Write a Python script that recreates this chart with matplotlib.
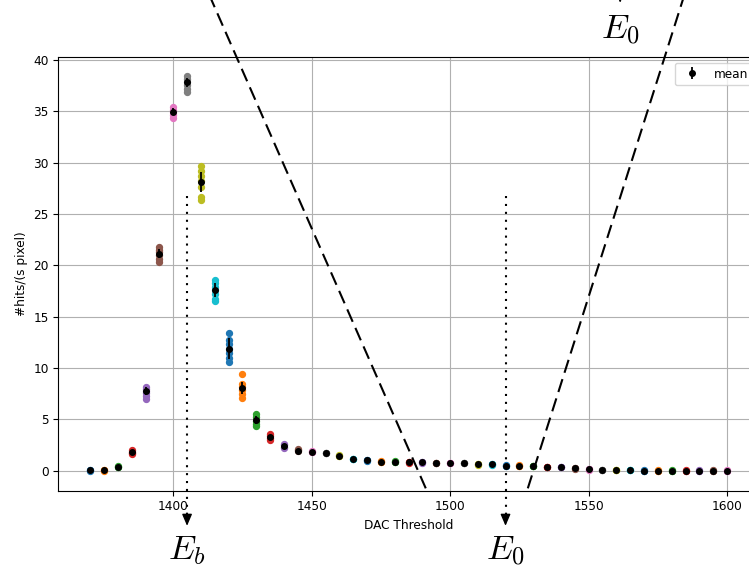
import numpy as np
import matplotlib
matplotlib.use('Agg')
import matplotlib.pyplot as plt

plt.rcParams['mathtext.fontset'] = 'cm'

# DAC thresholds and the per-pixel hit rates
thresholds = list(range(1370, 1605, 5))

pixel_rates = [
    [0.02, 0.05, 0.08], [0.03, 0.05, 0.08], [0.35, 0.42, 0.50],
    [1.65, 1.75, 1.85, 2.05], [7.0, 7.3, 7.6, 7.8, 8.0, 8.2],
    [20.3, 20.6, 21.0, 21.3, 21.5, 21.8], [34.3, 34.6, 34.9, 35.1, 35.4],
    [36.9, 37.2, 37.5, 37.8, 38.1, 38.4], [26.4, 26.6, 27.6, 28.2, 28.7, 29.2, 29.7],
    [16.5, 16.7, 17.2, 17.6, 17.9, 18.3, 18.6], [10.6, 11.0, 11.5, 11.9, 12.3, 12.7, 13.4],
    [7.1, 7.5, 7.9, 8.2, 8.5, 9.4], [4.4, 4.6, 4.9, 5.2, 5.5],
    [3.0, 3.2, 3.4, 3.6], [2.2, 2.35, 2.5, 2.6], [1.9, 2.0, 2.1],
    [1.85, 1.88, 1.91], [1.69, 1.72, 1.75], [1.44, 1.47, 1.50], [1.14, 1.17, 1.20],
    [0.98, 1.01, 1.04], [0.87, 0.90, 0.93], [0.87, 0.90, 0.93], [0.80, 0.83, 0.86],
    [0.80, 0.83, 0.86], [0.75, 0.78, 0.81], [0.72, 0.75, 0.78], [0.72, 0.75, 0.78],
    [0.59, 0.62, 0.65], [0.59, 0.62, 0.65], [0.49, 0.52, 0.55], [0.49, 0.52, 0.55],
    [0.43, 0.46, 0.49], [0.33, 0.36, 0.39], [0.33, 0.36, 0.39], [0.23, 0.26, 0.29],
    [0.13, 0.16, 0.19], [0.07, 0.10, 0.13], [0.07, 0.10, 0.13], [0.07, 0.10, 0.13],
    [0.0, 0.02, 0.04], [0.0, 0.02, 0.04], [0.0, 0.02, 0.04], [0.0, 0.02, 0.04],
    [0.0, 0.02, 0.04], [0.0, 0.02, 0.04], [0.0, 0.02, 0.04],
]

mean_rate = [0.05, 0.05, 0.42, 1.82, 7.75, 21.15, 34.95, 37.8, 28.1, 17.6,
             11.9, 8.05, 4.95, 3.28, 2.4, 1.98, 1.88, 1.72, 1.47, 1.17,
             1.01, 0.90, 0.90, 0.83, 0.83, 0.78, 0.75, 0.75, 0.62, 0.62,
             0.52, 0.52, 0.46, 0.36, 0.36, 0.26, 0.16, 0.10, 0.10, 0.10,
             0.02, 0.02, 0.02, 0.02, 0.02, 0.02, 0.02]

mean_err = [0.05, 0.05, 0.08, 0.15, 0.4, 0.45, 0.35, 0.45, 1.0, 0.65,
            1.0, 0.55, 0.35, 0.2, 0.15] + [0.05] * 32

# energy markers and the zoomed region
E_B, E_0 = 1405, 1520
MARK_TOP = 26.7
ZOOM_LEFT = [(1491.2, -1.7), (1411.9, 47.0)]
ZOOM_RIGHT = [(1528.05, -1.7), (1585.4, 47.0)]

FS = 8.7

fig = plt.figure(figsize=(7.49, 5.66), dpi=100)
ax = fig.add_axes([58.3 / 749, 75.3 / 566, 700.6 / 749, 434 / 566])

for i, (x, ys) in enumerate(zip(thresholds, pixel_rates)):
    ax.scatter([x] * len(ys), ys, s=18, color='C%d' % (i % 10), zorder=2)

ax.errorbar(thresholds, mean_rate, yerr=mean_err, fmt='ko', ms=4,
            elinewidth=1.3, label='mean', zorder=3)

ax.set_xlim(1358.5, 1611.5)
ax.set_ylim(-1.93, 40.3)
ax.grid(True)
ax.tick_params(labelsize=FS)
ax.set_xlabel('DAC Threshold', fontsize=FS)
ax.set_ylabel('#hits/(s pixel)', fontsize=FS)
ax.legend(loc='upper right', fontsize=FS)

# zoom lines
for seg in (ZOOM_LEFT, ZOOM_RIGHT):
    ax.plot([seg[0][0], seg[1][0]], [seg[0][1], seg[1][1]], color='k',
            lw=1.5, ls=(0, (6.5, 3.2)), clip_on=False, zorder=4)

# dotted markers with arrows and labels
for x, lab in ((E_B, r'$E_b$'), (E_0, r'$E_0$')):
    ax.plot([x, x], [MARK_TOP, -4.3], color='k', lw=1.5, ls=(0, (1, 2.8)),
            clip_on=False, zorder=4)
    ax.annotate('', xy=(x, -5.35), xytext=(x, -4.3),
                arrowprops=dict(arrowstyle='-|>,head_length=0.7,head_width=0.3',
                                color='k', lw=1, shrinkA=0, shrinkB=0),
                annotation_clip=False)
    ax.text(x, -8.6, lab, ha='center', va='baseline', fontsize=25)

# label of the inset above (cut off)
fig.text(0.829, 0.947, r'$E_0$', ha='center', va='center', fontsize=25)
ax.annotate('', xy=(0.828, 0.995), xytext=(0.828, 1.1), xycoords='figure fraction',
            arrowprops=dict(arrowstyle='-|>,head_length=0.7,head_width=0.3',
                            color='k', lw=1, shrinkA=0, shrinkB=0))

fig.savefig('out.png', dpi=100)
